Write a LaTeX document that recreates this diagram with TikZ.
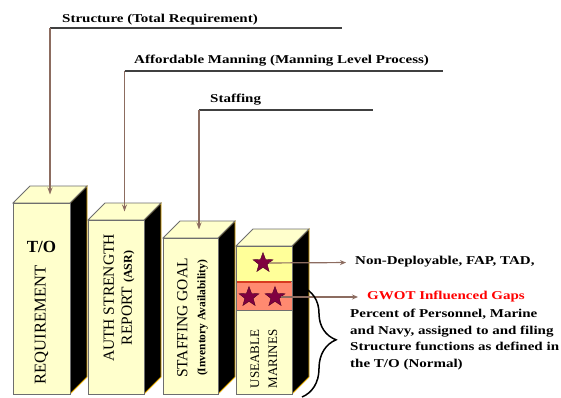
\documentclass[tikz,border=0pt]{standalone}
\usepackage{fontspec}
\setmainfont{Liberation Serif}
\newfontfamily\widefont[FakeStretch=1.25]{Liberation Serif}
\usetikzlibrary{arrows.meta,shapes.geometric,decorations.pathreplacing}
\definecolor{pale}{HTML}{FFFFCC}
\definecolor{band}{HTML}{FFFF99}
\definecolor{gap}{HTML}{FF8A70}
\definecolor{gapedge}{HTML}{D83A20}
\definecolor{maroon}{HTML}{800040}
\definecolor{rope}{HTML}{8C6C60}
\definecolor{edge}{HTML}{6E6E6E}
\definecolor{gold}{HTML}{E0A800}
\tikzset{
  face/.style={fill=pale, draw=edge, line width=0.8pt},
  side/.style={fill=black, draw=gold, line width=0.8pt},
  rule/.style={draw=black!75, line width=1.4pt},
  feed/.style={draw=rope, line width=1.6pt, -{Stealth[length=7pt,width=5pt]}},
  callout/.style={draw=rope, line width=1.2pt, -{Stealth[length=6pt,width=5pt]}},
  head/.style={font=\widefont\bfseries\fontsize{12}{16.6}\selectfont, inner sep=0pt},
  boxtxt/.style={font=\fontsize{15.5}{18}\selectfont, rotate=90, align=center, inner sep=0pt},
  starmark/.style={star, star points=5, star point ratio=2.4, fill=maroon, draw=maroon!60!black, minimum size=21pt, inner sep=0pt}
}
\begin{document}
\begin{tikzpicture}[x=1pt,y=-1pt]
\useasboundingbox (0,0) rectangle (561,398);
% pillars: number / left / right / top of front face
\foreach \n/\l/\r/\t in {1/13/70/203, 2/88/144/220, 3/163/218/238, 4/236/292/246}{
  \draw[side] (\r,\t) -- (\r+17,\t-17) -- (\r+17,377) -- (\r,394) -- cycle;
  \draw[face] (\l,\t) -- (\l+17,\t-17) -- (\r+17,\t-17) -- (\r,\t) -- cycle;
  \draw[face] (\l,\t) rectangle (\r,394);
  \coordinate (top\n) at ({(\l+\r)/2+8.5},\t-8.5);
}
% bands on the last pillar
\draw[fill=band, draw=edge, line width=0.8pt] (236,246) rectangle (292,281);
\draw[fill=gap, draw=edge, line width=0.8pt] (236,281) rectangle (292,310);
\draw[gapedge, line width=1.6pt] (237,282) -- (291,282);

% pillar texts
\node[font=\bfseries\fontsize{17}{18}\selectfont, inner sep=0pt] (to) at (41.5,247) {T/O};
\node[boxtxt, font=\fontsize{16.5}{18}\selectfont] (req) at (41.5,325) {REQUIREMENT};
\node[boxtxt] (asr) at (119,298) {AUTH STRENGTH\\REPORT {\fontsize{12}{18}\selectfont\bfseries (ASR)}};
\node[boxtxt] (goal) at (192.5,318) {STAFFING GOAL\\{\fontsize{11.5}{18}\selectfont\bfseries (Inventory Availability)}};
\node[boxtxt, font=\fontsize{13}{18}\selectfont] (use) at (264,359) {USEABLE\\MARINES};

% stars
\node[starmark] (s1) at (263,263) {};
\node[starmark] (s2) at (249,297) {};
\node[starmark] (s3) at (275,297) {};

% levels above the pillars
\coordinate (h1a) at (50,28);
\coordinate (h1b) at (342,28);
\coordinate (h2a) at (124.5,71);
\coordinate (h2b) at (443,71);
\coordinate (h3a) at (199,110);
\coordinate (h3b) at (373,110);
\node[head, anchor=base west] (lab1) at (62,23) {Structure (Total Requirement)};
\node[head, anchor=base west] (lab2) at (134,64) {Affordable Manning (Manning Level Process)};
\node[head, anchor=base west] (lab3) at (210,103) {Staffing};
\draw[rule] (h1a) -- (h1b);
\draw[rule] (h2a) -- (h2b);
\draw[rule] (h3a) -- (h3b);
\draw[feed] (h1a) -- (top1);
\draw[feed] (h2a) -- (top2);
\draw[feed] (h3a) -- (top3);

% notes on the right
\node[head, anchor=west] (nd) at (355,262) {Non-Deployable, FAP, TAD,};
\node[head, anchor=west, text=red] (gw) at (367,297) {GWOT Influenced Gaps};
\node[head, anchor=north west, align=left] (pct) at (350,309)
  {Percent of Personnel, Marine\\and Navy, assigned to and filing\\Structure functions as defined in\\the T/O (Normal)};
\draw[callout, shorten >=9pt] (s1) -- (nd);
\draw[callout, shorten >=9pt] (s3) -- (gw);

% brace over the useable part
\coordinate (bt) at (302,287);
\coordinate (bb) at (302,397);
\draw[decorate, decoration={brace, amplitude=34pt, aspect=0.48}, line width=1.5pt] (bt) -- (bb);
\end{tikzpicture}
\end{document}
